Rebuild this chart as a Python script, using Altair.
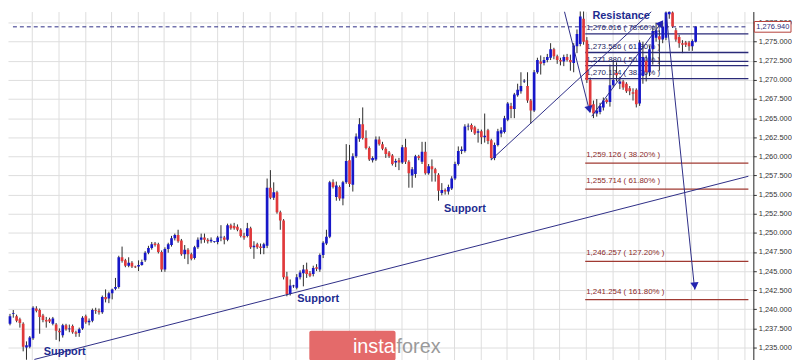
import altair as alt
import pandas as pd

# ---------------- candle data ----------------
opens = [
 1238.2,1238.1,1239.4,1239.1,1238.7,1238.1,1235.0,1235.1,1236.2,1240.1,
 1239.9,1239.2,1238.6,1238.7,1238.1,1238.0,1237.2,1236.6,1237.9,1237.4,
 1237.8,1237.0,1236.9,1237.5,1239.1,1238.3,1238.5,1239.9,1239.8,1239.6,
 1241.6,1241.4,1242.1,1242.7,1242.9,1246.8,1246.4,1245.7,1246.1,1245.6,
 1245.6,1245.8,1246.4,1247.4,1248.0,1248.6,1248.5,1247.5,1245.2,1247.9,
 1248.4,1249.3,1249.7,1249.0,1247.2,1247.8,1247.2,1246.7,1248.1,1249.1,
 1249.4,1249.1,1248.9,1248.8,1248.8,1249.4,1249.4,1249.1,1251.0,1250.9,
 1250.8,1250.4,1249.6,1249.6,1250.6,1248.1,1248.5,1248.2,1248.0,1248.3,
 1255.9,1254.6,1255.3,1252.7,1251.6,1244.3,1242.0,1243.0,1242.8,1244.2,
 1244.7,1245.2,1244.7,1244.6,1245.5,1245.2,1247.1,1248.6,1249.5,1256.6,
 1254.7,1256.0,1254.5,1256.6,1259.5,1256.3,1260.0,1262.3,1264.2,1262.4,
 1261.1,1259.5,1259.6,1262.2,1261.6,1261.0,1260.5,1260.1,1259.2,1259.5,
 1259.2,1261.2,1259.3,1257.5,1257.7,1260.0,1259.3,1260.6,1257.8,1258.7,
 1258.3,1257.6,1255.2,1255.6,1255.4,1255.8,1257.1,1259.0,1260.7,1260.7,
 1263.9,1264.1,1263.8,1263.1,1263.3,1262.5,1263.4,1262.1,1259.8,1261.5,
 1263.0,1263.2,1264.8,1266.6,1266.2,1268.0,1268.5,1269.8,1269.2,1267.3,
 1266.0,1271.0,1272.4,1272.2,1272.6,1272.9,1274.0,1273.1,1272.6,1272.4,
 1273.0,1272.6,1272.2,1274.4,1274.7,1278.0,1275.2,1270.0,1266.8,1265.6,
 1265.8,1266.4,1267.4,1267.1,1269.3,1270.9,1269.5,1269.8,1269.5,1268.9,
 1268.4,1268.7,1266.9,1270.5,1272.5,1271.0,1274.0,1275.5,1275.7,1275.3,
 1275.5,1278.6,1278.8,1276.5,1275.6,1274.8,1274.9,1274.9,1274.4,1275.0,
]
highs = [
 1240.0,1239.4,1239.9,1239.3,1238.9,1238.3,1235.8,1236.5,1240.4,1240.4,
 1240.1,1239.4,1239.0,1238.9,1239.0,1238.2,1237.5,1238.1,1238.1,1238.0,
 1238.0,1237.2,1237.6,1239.1,1239.3,1238.8,1240.1,1240.2,1240.1,1241.8,
 1242.6,1242.3,1242.7,1244.1,1247.0,1248.2,1246.6,1246.8,1246.3,1245.7,
 1246.4,1246.5,1247.6,1248.3,1248.8,1248.8,1248.7,1247.7,1248.1,1248.7,
 1249.6,1249.9,1250.4,1249.2,1248.4,1248.0,1247.4,1248.3,1249.4,1249.9,
 1249.9,1249.3,1249.4,1248.9,1249.6,1251.0,1249.6,1251.2,1251.2,1251.3,
 1251.1,1250.6,1250.0,1251.3,1250.8,1248.9,1248.7,1248.6,1248.7,1257.1,
 1258.2,1256.6,1255.5,1252.9,1251.8,1244.9,1243.9,1243.2,1244.6,1245.1,
 1245.8,1246.1,1245.0,1245.7,1245.9,1247.3,1248.9,1250.4,1256.8,1257.0,
 1256.7,1256.2,1256.8,1261.6,1261.5,1260.4,1263.0,1265.0,1266.4,1263.4,
 1261.3,1260.0,1262.6,1262.6,1261.9,1261.2,1260.7,1260.3,1259.7,1259.8,
 1261.5,1262.3,1259.5,1258.6,1260.2,1260.2,1261.9,1261.9,1259.0,1259.6,
 1258.5,1257.8,1256.5,1255.8,1256.3,1257.4,1259.3,1261.3,1261.3,1264.2,
 1264.3,1264.3,1264.0,1263.6,1263.5,1265.6,1263.6,1262.3,1261.8,1263.6,
 1263.8,1265.3,1267.1,1267.0,1268.3,1269.5,1271.0,1270.1,1271.0,1267.5,
 1271.3,1272.9,1273.2,1273.0,1273.4,1274.8,1274.2,1273.3,1272.9,1273.3,
 1273.4,1273.3,1274.8,1276.6,1279.5,1279.5,1275.6,1270.3,1267.3,1267.5,
 1267.0,1267.7,1267.6,1272.0,1272.6,1272.3,1270.4,1270.0,1269.7,1269.2,
 1268.9,1268.9,1275.2,1275.0,1273.2,1274.5,1276.8,1277.5,1276.5,1277.5,
 1279.5,1280.0,1280.0,1276.8,1275.9,1275.2,1275.1,1275.1,1275.3,1277.0,
]
lows = [
 1237.8,1237.9,1238.9,1238.3,1237.6,1234.5,1233.4,1234.9,1236.0,1239.6,
 1236.8,1238.3,1237.6,1238.2,1237.9,1236.0,1235.8,1236.3,1237.2,1237.0,
 1236.8,1236.4,1236.4,1237.3,1238.1,1237.9,1238.3,1239.4,1239.3,1239.4,
 1240.9,1240.8,1241.3,1242.5,1242.7,1246.1,1245.5,1245.5,1245.4,1245.4,
 1245.0,1245.7,1246.2,1247.2,1247.8,1248.2,1247.3,1244.9,1244.9,1247.4,
 1248.2,1249.0,1248.7,1247.0,1246.6,1245.9,1246.4,1246.5,1247.9,1248.6,
 1248.7,1248.6,1248.7,1248.7,1248.5,1248.9,1248.5,1248.9,1250.4,1250.4,
 1250.2,1249.4,1249.1,1249.4,1247.9,1246.6,1247.9,1247.2,1247.2,1248.0,
 1254.4,1254.3,1252.5,1250.4,1243.9,1241.7,1241.8,1242.8,1242.6,1243.9,
 1243.0,1244.1,1244.2,1244.3,1245.0,1244.9,1246.7,1248.4,1249.3,1255.8,
 1254.2,1254.2,1253.6,1256.4,1256.0,1255.4,1259.8,1261.9,1262.2,1260.9,
 1259.4,1259.2,1259.4,1261.4,1260.8,1259.8,1259.8,1258.8,1258.6,1258.2,
 1259.0,1259.0,1255.9,1255.9,1257.2,1259.5,1259.0,1257.6,1257.6,1256.7,
 1256.7,1254.2,1254.9,1255.0,1255.0,1255.6,1256.9,1258.8,1260.3,1260.5,
 1263.4,1263.2,1262.8,1261.8,1261.6,1261.8,1261.6,1259.5,1259.5,1261.3,
 1262.5,1263.0,1264.6,1265.0,1265.0,1267.8,1268.2,1269.6,1267.0,1264.3,
 1265.8,1270.8,1270.7,1271.9,1272.3,1272.6,1272.7,1272.1,1271.9,1271.8,
 1272.4,1271.2,1271.0,1273.5,1274.4,1274.6,1269.6,1265.8,1265.0,1265.2,
 1265.5,1266.0,1266.9,1266.5,1269.0,1269.8,1268.8,1268.7,1268.3,1268.0,
 1267.3,1266.4,1266.6,1269.5,1269.8,1270.5,1272.0,1275.0,1271.2,1274.8,
 1275.2,1278.0,1276.8,1275.0,1274.2,1273.5,1274.3,1273.8,1273.8,1274.9,
]
closes = [
 1239.4,1239.1,1239.5,1238.5,1238.2,1235.1,1235.3,1236.3,1240.2,1239.8,
 1239.0,1238.6,1238.4,1238.4,1238.8,1237.2,1237.0,1237.9,1237.4,1237.5,
 1237.0,1236.8,1237.4,1238.9,1238.3,1238.5,1239.9,1239.8,1239.6,1241.6,
 1241.3,1242.1,1242.6,1242.9,1246.8,1246.3,1245.7,1246.1,1245.6,1245.5,
 1245.8,1246.2,1247.4,1248.0,1248.5,1248.4,1247.5,1245.2,1247.9,1248.5,
 1249.3,1249.7,1248.9,1247.2,1247.8,1247.2,1246.6,1248.1,1249.1,1249.4,
 1249.1,1248.9,1249.1,1248.9,1249.4,1249.5,1249.1,1251.0,1250.6,1250.6,
 1250.4,1249.6,1249.4,1250.6,1248.1,1248.3,1248.1,1248.0,1248.5,1255.9,
 1254.6,1255.3,1252.7,1251.6,1244.2,1242.0,1243.1,1243.1,1244.2,1244.8,
 1245.2,1244.6,1244.4,1245.4,1245.3,1247.1,1248.7,1249.5,1256.6,1256.0,
 1256.2,1254.5,1256.6,1259.4,1256.4,1260.0,1262.6,1264.2,1262.4,1261.1,
 1259.6,1259.8,1262.2,1261.6,1261.0,1260.3,1260.0,1259.0,1259.4,1259.2,
 1261.2,1259.3,1257.8,1258.3,1260.0,1259.8,1260.6,1257.8,1258.7,1258.3,
 1257.8,1255.5,1255.6,1255.4,1256.0,1257.1,1259.0,1260.7,1260.9,1263.9,
 1264.0,1263.5,1263.0,1263.3,1262.5,1262.7,1262.0,1259.8,1261.5,1263.3,
 1263.4,1265.0,1266.9,1266.2,1268.1,1268.7,1269.2,1269.9,1267.3,1266.0,
 1271.0,1272.6,1272.1,1272.6,1273.0,1274.0,1273.1,1272.6,1272.4,1273.0,
 1272.6,1272.3,1274.5,1276.0,1278.3,1275.0,1270.0,1266.5,1265.6,1266.0,
 1266.6,1267.3,1267.1,1269.3,1270.0,1270.6,1269.8,1269.0,1268.5,1268.5,
 1268.2,1266.8,1274.9,1273.0,1271.0,1274.0,1276.4,1276.5,1275.3,1277.0,
 1278.8,1278.9,1277.0,1275.3,1274.8,1274.6,1274.6,1274.4,1275.1,1276.94,
]

# ---------------- axis ----------------
y_ticks = [1235 + 2.5 * k for k in range(18)]
grid_x = [8 * k - 0.3 for k in range(1, 29)]
current_price = 1276.94
current_label = "1,276.940"

# ---------------- Fibonacci levels ----------------
fib_blue_prices = [1276.016, 1273.586, 1271.880, 1270.174]
fib_blue_labels = ["1,276.016 ( 78.60% )", "1,273.586 ( 61.80% )",
                   "1,271.880 ( 50.00% )", "1,270.174 ( 38.20% )"]
extra_blue_line = [1272.43]
fib_red_prices = [1259.126, 1255.714, 1246.257, 1241.254]
fib_red_labels = ["1,259.126 ( 38.20% )", "1,255.714 ( 61.80% )",
                  "1,246.257 ( 127.20% )", "1,241.254 ( 161.80% )"]
fib_start = 175.5
fib_end = 225.0

# ---------------- trend lines / arrows (index, price) ----------------
seg_x1 = [8.4, 147.0, 177.5, 169.2, 200.1]
seg_y1 = [1233.44, 1259.55, 1265.25, 1278.94, 1278.56]
seg_x2 = [225.0, 195.6, 198.9, 176.9, 208.7]
seg_y2 = [1257.40, 1278.94, 1277.67, 1265.76, 1242.57]

head_x = [176.65, 198.3, 208.7]
head_y = [1266.27, 1277.3, 1243.2]
head_angle = [166, 36, 174]

ann_text = ["Resistance", "Support", "Support", "Support"]
ann_x = [186.4, 139.0, 94.5, 17.6]
ann_y = [1278.4, 1253.1, 1241.3, 1234.47]

# ---------------- build ----------------
XDOM = [1.9, 225.0]
YDOM = [1233.31, 1278.94]
NAVY = "#2d2d86"

df = pd.DataFrame({"i": list(range(len(opens))), "open": opens, "high": highs,
                   "low": lows, "close": closes})
df["dir"] = ["up" if c >= o else "down" for o, c in zip(opens, closes)]

xs = alt.Scale(domain=XDOM, nice=False, zero=False)
ys = alt.Scale(domain=YDOM, nice=False, zero=False)

x_axis = alt.Axis(values=grid_x, labels=False, ticks=False, domain=False, title=None,
                  grid=True, gridColor="#dedede", gridWidth=1)
y_axis = alt.Axis(orient="right", values=y_ticks, format=",.3f", title=None,
                  grid=True, gridColor="#dedede", gridWidth=1,
                  labelFont="Liberation Sans", labelFontSize=7.5, labelColor="#333333",
                  tickSize=3, tickColor="#333333", labelPadding=2,
                  domainColor="#222222", labelOverlap=False)


def X(field):
    return alt.X(field, type="quantitative", scale=xs, axis=x_axis)


def Y(field):
    return alt.Y(field, type="quantitative", scale=ys, axis=y_axis)


wicks = alt.Chart(df).mark_rule(color="#2a2a2a", strokeWidth=1, clip=True).encode(
    x=X("i"), y=Y("low"), y2="high")

bodies = alt.Chart(df).mark_bar(size=2.7, clip=True).encode(
    x=X("i"), y=Y("open"), y2="close",
    color=alt.Color("dir:N", scale=alt.Scale(domain=["up", "down"],
                                             range=["#1717c8", "#e0393b"]), legend=None))

cur_df = pd.DataFrame({"x": [XDOM[0]], "x2": [XDOM[1]], "p": [current_price]})
cur_line = alt.Chart(cur_df).mark_rule(color=NAVY, strokeWidth=1, strokeDash=[4, 3]).encode(
    x=X("x"), x2="x2", y=Y("p"))

fb = pd.DataFrame({"x": [fib_start] * 5, "x2": [fib_end] * 5,
                   "p": fib_blue_prices + extra_blue_line})
fib_blue_lines = alt.Chart(fb).mark_rule(color="#2a2a78", strokeWidth=1.3).encode(
    x=X("x"), x2="x2", y=Y("p"))
fbl = pd.DataFrame({"x": [fib_start] * 4, "p": fib_blue_prices, "t": fib_blue_labels})
fib_blue_text = alt.Chart(fbl).mark_text(align="left", baseline="bottom", dx=1, dy=-2,
                                          font="Liberation Sans", fontSize=8,
                                          color="#26265e").encode(
    x=X("x"), y=Y("p"), text="t:N")

fr = pd.DataFrame({"x": [fib_start] * 4, "x2": [fib_end] * 4, "p": fib_red_prices,
                   "t": fib_red_labels})
fib_red_lines = alt.Chart(fr).mark_rule(color="#a03a32", strokeWidth=1.2).encode(
    x=X("x"), x2="x2", y=Y("p"))
fib_red_text = alt.Chart(fr).mark_text(align="left", baseline="bottom", dx=1, dy=-4,
                                        font="Liberation Sans", fontSize=8,
                                        color="#8b2a2a").encode(
    x=X("x"), y=Y("p"), text="t:N")

seg = pd.DataFrame({"x": seg_x1, "y": seg_y1, "x2": seg_x2, "y2": seg_y2})
segments = alt.Chart(seg).mark_rule(color=NAVY, strokeWidth=1, clip=True).encode(
    x=X("x"), y=Y("y"), x2="x2", y2="y2")

hd = pd.DataFrame({"x": head_x, "y": head_y, "a": head_angle})
heads = alt.Chart(hd).mark_point(shape="triangle", filled=True, size=70, color="#2323b0",
                                 opacity=1).encode(
    x=X("x"), y=Y("y"), angle=alt.Angle("a:Q", scale=None))

an = pd.DataFrame({"x": ann_x, "y": ann_y, "t": ann_text})
ann = alt.Chart(an).mark_text(font="Liberation Sans", fontSize=11, fontWeight="bold",
                              color="#1d2b8f", align="center", baseline="middle").encode(
    x=X("x"), y=Y("y"), text="t:N")

box_df = pd.DataFrame({"p": [current_price], "t": [current_label],
                       "p1": [current_price + 0.7], "p2": [current_price - 0.7]})
box_rect = alt.Chart(box_df).mark_rect(fill="white", stroke="#b5403a", strokeWidth=1).encode(
    x=alt.value(753), x2=alt.value(790), y=Y("p1"), y2="p2")
price_text = alt.Chart(box_df).mark_text(
    align="left", baseline="middle", font="Liberation Sans", fontSize=7.5,
    color="#2a2a78").encode(x=alt.value(755), y=Y("p"), text="t:N")

# watermark logo
wm = pd.DataFrame({"k": [0]})
logo_rect = alt.Chart(wm).mark_rect(fill="#e46a6a", cornerRadius=2).encode(
    x=alt.value(304), x2=alt.value(391), y=alt.value(322), y2=alt.value(352))
logo_insta = alt.Chart(wm).mark_text(text="insta", font="Liberation Sans", fontSize=20,
                                     color="white", align="left", baseline="middle").encode(
    x=alt.value(348), y=alt.value(338))
logo_forex = alt.Chart(wm).mark_text(text="forex", font="Liberation Sans", fontSize=20,
                                     color="#9a9a9a", align="left", baseline="middle").encode(
    x=alt.value(392), y=alt.value(338))

chart = alt.layer(
    wicks, fib_blue_lines, fib_red_lines, fib_blue_text, fib_red_text, cur_line,
    bodies, segments, heads, ann, box_rect, price_text,
    logo_rect, logo_insta, logo_forex
).properties(width=752, height=352, padding=0).configure_view(stroke=None)

chart.save("out.html", embed_options={"renderer": "svg", "actions": False})
